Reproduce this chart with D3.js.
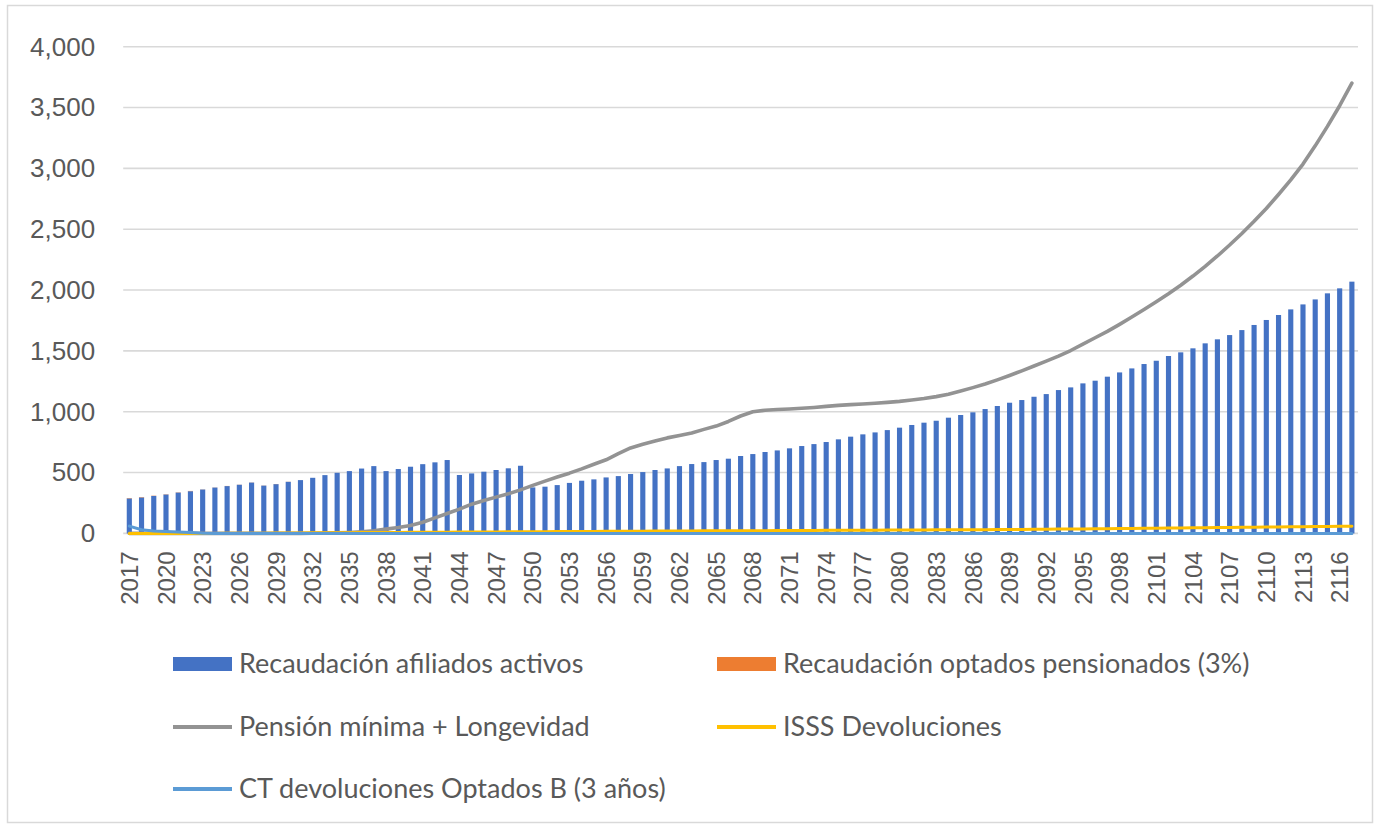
<!DOCTYPE html>
<html>
<head>
<meta charset="utf-8">
<script src="https://cdn.jsdelivr.net/npm/d3@7"></script>
<style>
  html, body { margin: 0; padding: 0; background: #fff; }
  svg { display: block; font-family: Lato, "Open Sans", sans-serif; }
</style>
</head>
<body>
<svg id="chart" width="1380" height="829"></svg>
<script>
// Years 2017–2117, one category per year
const years = d3.range(2017, 2118);
const tickYears = years.filter((y, i) => i % 3 === 0);
const yTicks = [0, 500, 1000, 1500, 2000, 2500, 3000, 3500, 4000];

// Recaudación afiliados activos (bars)
const afiliadosActivos = [
  288, 296, 308, 320, 336, 347, 361, 377, 389, 400,
  418, 393, 405, 424, 438, 457, 479, 498, 512, 533,
  553, 512, 529, 548, 569, 584, 603, 480, 493, 507,
  521, 535, 556, 378, 384, 397, 415, 433, 444, 460,
  471, 488, 504, 521, 534, 553, 570, 586, 603, 614,
  636, 652, 669, 682, 699, 718, 734, 751, 773, 795,
  814, 830, 849, 869, 891, 910, 926, 951, 973, 995,
  1022, 1047, 1074, 1096, 1123, 1145, 1178, 1200, 1233, 1255,
  1288, 1323, 1356, 1392, 1419, 1458, 1488, 1521, 1562, 1595,
  1630, 1671, 1713, 1754, 1795, 1841, 1882, 1923, 1973, 2014,
  2069
];

// Recaudación optados pensionados (3%) (bars, stacked)
const optadosPensionados = [
  3, 3, 2, 2, 2, 2, 1, 1, 1, 1,
  1, 1, 1, 1, 0, 0, 0, 0, 0, 0,
  0, 0, 0, 0, 0, 0, 0, 0, 0, 0,
  0, 0, 0, 0, 0, 0, 0, 0, 0, 0,
  0, 0, 0, 0, 0, 0, 0, 0, 0, 0,
  0, 0, 0, 0, 0, 0, 0, 0, 0, 0,
  0, 0, 0, 0, 0, 0, 0, 0, 0, 0,
  0, 0, 0, 0, 0, 0, 0, 0, 0, 0,
  0, 0, 0, 0, 0, 0, 0, 0, 0, 0,
  0, 0, 0, 0, 0, 0, 0, 0, 0, 0,
  0
];

// Pensión mínima + Longevidad (line)
const pensionMinima = [
  0, 0, 0, 0, 0, 0, 0, 0, 0, 0,
  0, 0, 0, 0, 0, 1, 2, 4, 8, 14,
  22, 35, 48, 65, 92, 128, 163, 200, 240, 270,
  298, 325, 358, 395, 430, 463, 495, 530, 568, 605,
  655, 702, 733, 760, 785, 805, 826, 855, 882, 920,
  965, 1000, 1012, 1018, 1022, 1028, 1035, 1044, 1052, 1058,
  1064, 1070, 1077, 1085, 1096, 1108, 1124, 1144, 1170, 1198,
  1228, 1262, 1298, 1336, 1376, 1416, 1457, 1503, 1555, 1608,
  1660, 1718, 1778, 1840, 1904, 1970, 2040, 2115, 2195, 2280,
  2370, 2465, 2565, 2670, 2785, 2905, 3035, 3185, 3345, 3515,
  3700
];

// ISSS Devoluciones (line)
const isssDevoluciones = [
  0, 0, 0, 0, 0, 0, 0, 0, 1, 1,
  2, 2, 3, 4, 4, 5, 5, 6, 6, 7,
  7, 8, 8, 9, 9, 10, 10, 11, 11, 12,
  12, 13, 13, 14, 14, 15, 15, 16, 16, 17,
  17, 18, 18, 19, 19, 20, 20, 21, 21, 21,
  22, 22, 22, 23, 23, 24, 24, 25, 25, 25,
  26, 26, 27, 27, 28, 28, 29, 29, 30, 31,
  31, 32, 33, 33, 34, 35, 36, 36, 37, 38,
  39, 40, 41, 42, 43, 44, 45, 46, 47, 48,
  49, 50, 51, 52, 53, 54, 55, 56, 57, 58,
  59
];

// CT devoluciones Optados B (3 años) (line)
const ctDevoluciones = [
  60, 30, 20, 15, 12, 8, 2, 0, 0, 0,
  0, 0, 0, 0, 0, 0, 0, 0, 0, 0,
  0, 0, 0, 0, 0, 0, 0, 0, 0, 0,
  0, 0, 0, 0, 0, 0, 0, 0, 0, 0,
  0, 0, 0, 0, 0, 0, 0, 0, 0, 0,
  0, 0, 0, 0, 0, 0, 0, 0, 0, 0,
  0, 0, 0, 0, 0, 0, 0, 0, 0, 0,
  0, 0, 0, 0, 0, 0, 0, 0, 0, 0,
  0, 0, 0, 0, 0, 0, 0, 0, 0, 0,
  0, 0, 0, 0, 0, 0, 0, 0, 0, 0,
  0
];

const seriesLabels = [
  "Recaudación afiliados activos",
  "Recaudación optados pensionados (3%)",
  "Pensión mínima + Longevidad",
  "ISSS Devoluciones",
  "CT devoluciones Optados B (3 años)"
];

const colors = {
  activos: "#4472C4",
  optados: "#ED7D31",
  pension: "#939393",
  isss: "#FFC000",
  ct: "#5B9BD5",
  grid: "#D9D9D9",
  text: "#595959"
};

const svg = d3.select("#chart");
const plot = { left: 123.2, right: 1358, top: 46.7, bottom: 533.4 };

// Outer chart border
svg.append("rect")
  .attr("x", 7.5).attr("y", 5.5)
  .attr("width", 1365).attr("height", 817)
  .attr("fill", "#fff")
  .attr("stroke", "#D9D9D9").attr("stroke-width", 1.5);

const x = d3.scaleBand()
  .domain(years)
  .range([plot.left, plot.right])
  .paddingInner(0.58)
  .paddingOuter(0.29);

const y = d3.scaleLinear()
  .domain([0, 4000])
  .range([plot.bottom, plot.top]);

const cx = yr => x(yr) + x.bandwidth() / 2;

// Horizontal gridlines
svg.append("g")
  .selectAll("line")
  .data(yTicks)
  .join("line")
  .attr("x1", plot.left).attr("x2", plot.right)
  .attr("y1", d => y(d)).attr("y2", d => y(d))
  .attr("stroke", colors.grid)
  .attr("stroke-width", 1.6);

// Y axis labels
const yAxis = d3.axisLeft(y)
  .tickValues(yTicks)
  .tickFormat(d3.format(","))
  .tickSize(0)
  .tickPadding(28);
const gy = svg.append("g")
  .attr("transform", `translate(${plot.left},0)`)
  .call(yAxis);
gy.select(".domain").remove();
gy.selectAll("text")
  .attr("fill", colors.text)
  .style("font-size", "26px");

// Bars: afiliados activos with optados stacked on top
const rows = years.map((yr, i) => ({
  year: yr,
  activos: afiliadosActivos[i],
  optados: optadosPensionados[i],
  pension: pensionMinima[i],
  isss: isssDevoluciones[i],
  ct: ctDevoluciones[i]
}));

svg.append("g")
  .selectAll("rect")
  .data(rows)
  .join("rect")
  .attr("x", d => x(d.year))
  .attr("width", x.bandwidth())
  .attr("y", d => y(d.activos))
  .attr("height", d => y(0) - y(d.activos))
  .attr("fill", colors.activos);

svg.append("g")
  .selectAll("rect")
  .data(rows.filter(d => d.optados > 0))
  .join("rect")
  .attr("x", d => x(d.year))
  .attr("width", x.bandwidth())
  .attr("y", d => y(d.activos + d.optados))
  .attr("height", d => y(d.activos) - y(d.activos + d.optados))
  .attr("fill", colors.optados);

// Lines
const lineFor = key => d3.line()
  .x(d => cx(d.year))
  .y(d => y(d[key]));

[["pension", 3.6], ["isss", 3], ["ct", 3]].forEach(([key, w]) => {
  svg.append("path")
    .datum(rows)
    .attr("fill", "none")
    .attr("stroke", colors[key])
    .attr("stroke-width", w)
    .attr("stroke-linejoin", "round")
    .attr("stroke-linecap", "round")
    .attr("d", lineFor(key));
});

// X axis labels, rotated
const xAxis = d3.axisBottom(x)
  .tickValues(tickYears)
  .tickSize(0);
const gx = svg.append("g")
  .attr("transform", `translate(0,${plot.bottom})`)
  .call(xAxis);
gx.select(".domain").remove();
gx.selectAll("text")
  .attr("fill", colors.text)
  .style("font-size", "24px")
  .attr("transform", "rotate(-90)")
  .attr("x", -18)
  .attr("y", 0)
  .attr("dy", "0.36em")
  .style("text-anchor", "end");

// Legend
const legendItems = [
  { label: seriesLabels[0], color: colors.activos, kind: "box", col: 0, row: 0 },
  { label: seriesLabels[1], color: colors.optados, kind: "box", col: 1, row: 0 },
  { label: seriesLabels[2], color: colors.pension, kind: "line", col: 0, row: 1 },
  { label: seriesLabels[3], color: colors.isss, kind: "line", col: 1, row: 1 },
  { label: seriesLabels[4], color: colors.ct, kind: "line", col: 0, row: 2 }
];
const colX = [173, 717];
const rowY = [664, 727, 789];
const swatchW = 59;

const lg = svg.append("g").selectAll("g")
  .data(legendItems)
  .join("g")
  .attr("transform", d => `translate(${colX[d.col]},${rowY[d.row]})`);

lg.filter(d => d.kind === "box").append("rect")
  .attr("x", 0).attr("y", -7)
  .attr("width", swatchW).attr("height", 14)
  .attr("fill", d => d.color);

lg.filter(d => d.kind === "line").append("line")
  .attr("x1", 0).attr("x2", swatchW)
  .attr("y1", 0).attr("y2", 0)
  .attr("stroke", d => d.color)
  .attr("stroke-width", 4);

lg.append("text")
  .attr("x", swatchW + 7)
  .attr("y", 0)
  .attr("dy", "0.35em")
  .attr("fill", colors.text)
  .style("font-size", "27px")
  .text(d => d.label);
</script>
</body>
</html>
